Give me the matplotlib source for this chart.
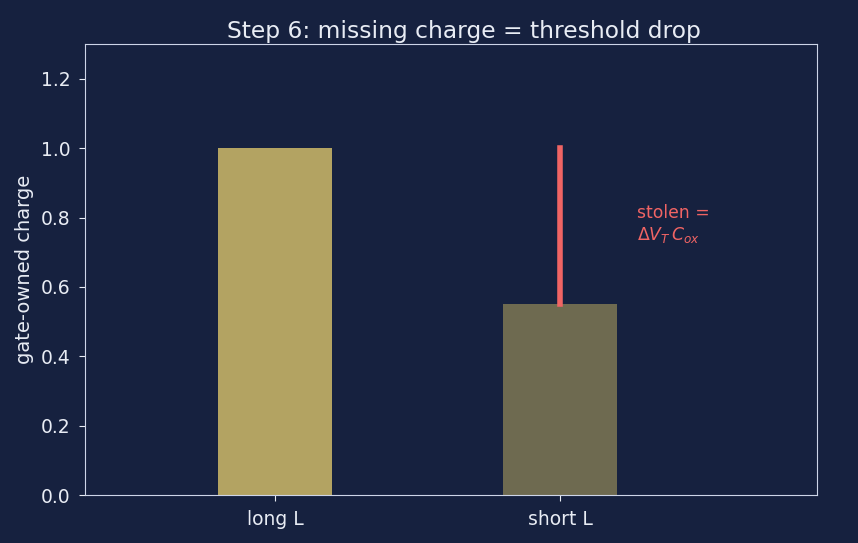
import matplotlib
matplotlib.use("Agg")
import matplotlib.pyplot as plt

# data
cases = ["long L", "short L"]
charge = [1.0, 0.55]
bar_colors = ["#b3a362", "#6e6a50"]
stolen_top = 1.0

BG = "#16213f"
FG = "#e8ecf4"
RED = "#f06464"

fig, ax = plt.subplots(figsize=(8.58, 5.43), dpi=100)
fig.patch.set_facecolor(BG)
ax.set_facecolor(BG)

x = list(range(len(cases)))
ax.bar(x, charge, width=0.4, color=bar_colors)

# missing charge on short L
ax.plot([x[1], x[1]], [charge[1], stolen_top], color=RED, linewidth=4,
        solid_capstyle="projecting")
ax.text(1.27, 0.78, "stolen =\n$\\Delta V_T\\,C_{ox}$", color=RED,
        fontsize=12.4, va="center", ha="left")

ax.set_xticks(x)
ax.set_xticklabels(cases)
ax.set_xlim(-0.667, 1.9)
ax.set_ylim(0, 1.3)
ax.set_ylabel("gate-owned charge", color=FG, fontsize=14, labelpad=5)
ax.set_title("Step 6: missing charge = threshold drop", color=FG,
             fontsize=16.8, x=0.518, pad=4)
ax.tick_params(colors=FG, labelsize=13.5, length=4.5, pad=6)
for s in ax.spines.values():
    s.set_color("#cdd5e8")

plt.subplots_adjust(left=0.099, right=0.952, top=0.919, bottom=0.088)
plt.savefig("out.png", dpi=100, facecolor=BG)
plt.close()
